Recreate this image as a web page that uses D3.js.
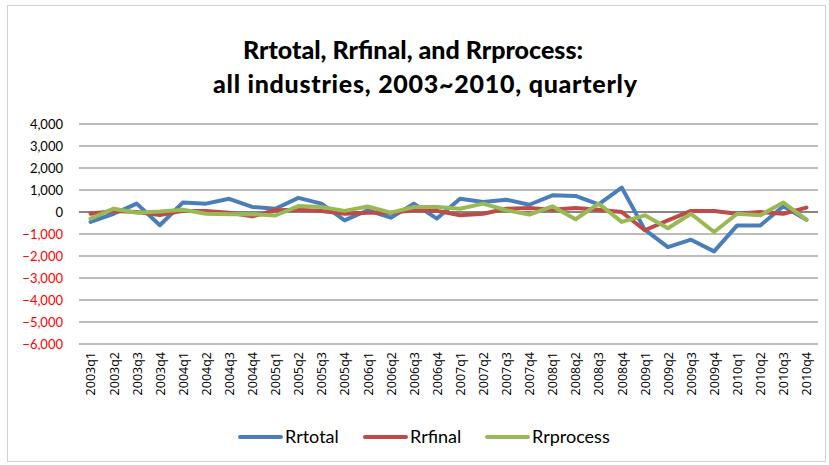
<!DOCTYPE html>
<html><head><meta charset="utf-8">
<script src="https://cdn.jsdelivr.net/npm/d3@7"></script>
<style>body{margin:0;background:#fff;}svg{display:block;}</style>
</head><body>
<svg id="c" width="829" height="465"></svg>
<script>
const quarters = ["2003q1","2003q2","2003q3","2003q4","2004q1","2004q2","2004q3","2004q4",
"2005q1","2005q2","2005q3","2005q4","2006q1","2006q2","2006q3","2006q4",
"2007q1","2007q2","2007q3","2007q4","2008q1","2008q2","2008q3","2008q4",
"2009q1","2009q2","2009q3","2009q4","2010q1","2010q2","2010q3","2010q4"];
const rrtotal = [-450,-80,380,-600,430,380,600,230,150,640,380,-380,80,-260,380,-300,600,450,560,330,760,730,350,1110,-800,-1600,-1260,-1790,-610,-610,260,-350];
const rrfinal = [-80,50,0,-140,50,50,-30,-200,80,100,50,-80,-30,-30,80,50,-150,-80,150,180,100,180,100,0,-830,-380,50,50,-80,0,-80,200];
const rrprocess = [-300,150,-30,20,100,-80,-100,-100,-160,270,230,50,250,-30,230,230,150,380,80,-120,260,-330,380,-450,-150,-740,-80,-910,-80,-150,430,-350];
const yTicks = [4000,3000,2000,1000,0,-1000,-2000,-3000,-4000,-5000,-6000];
const seriesNames = ["Rrtotal","Rrfinal","Rrprocess"];
const seriesColors = ["#4a7ebb","#be4b48","#98b954"];

const svg = d3.select("#c");
svg.append("rect").attr("x",7.5).attr("y",5.5).attr("width",818).attr("height",456)
  .attr("fill","#fff").attr("stroke","#d0d0d0");

const L=79, R=818, T=124, B=344;
const x = d3.scalePoint().domain(quarters).range([L,R]).padding(0.5);
const y = d3.scaleLinear().domain([-6000,4000]).range([B,T]);

// title
const title = svg.append("text").attr("text-anchor","middle").attr("font-family","Lato, 'Open Sans', sans-serif")
  .attr("font-weight",900).attr("font-size",25).attr("fill","#000");
title.append("tspan").attr("x",413).attr("y",59).attr("textLength",340).attr("lengthAdjust","spacing").text("Rrtotal, Rrfinal, and Rrprocess:");
title.append("tspan").attr("x",425).attr("y",93).attr("textLength",424).attr("lengthAdjust","spacing").text("all industries, 2003~2010, quarterly");

// grid
const gy = svg.append("g");
gy.selectAll("line").data(yTicks).join("line")
  .attr("x1",L).attr("x2",R).attr("y1",d=>y(d)).attr("y2",d=>y(d))
  .attr("stroke",d=>d===0?"#868686":"#a6a6a6").attr("stroke-width",d=>d===0?2:1.3);

// y axis labels
const yAxis = d3.axisLeft(y).tickValues(yTicks).tickSize(0).tickPadding(16).tickFormat(d3.format(","));
const ya = svg.append("g").attr("transform",`translate(${L},0)`).call(yAxis);
ya.select(".domain").remove();
ya.selectAll("text").attr("font-family","Lato, 'Open Sans', sans-serif").attr("font-size",13)
  .attr("fill",d=>d<0?"#ff0000":"#000");

// x axis labels
const xAxis = d3.axisBottom(x).tickSize(0).tickPadding(0);
const xa = svg.append("g").attr("transform",`translate(0,${B})`).call(xAxis);
xa.select(".domain").remove();
xa.selectAll("text").attr("font-family","'Open Sans', sans-serif").attr("font-size",12.5).attr("fill","#000")
  .attr("transform","rotate(-90)").attr("text-anchor","end").attr("dx","-8").attr("dy","0.35em").attr("x",0).attr("y",0);

// lines
const data = [rrtotal, rrfinal, rrprocess];
const line = d3.line().x((d,i)=>x(quarters[i])).y(d=>y(d));
svg.append("g").selectAll("path").data(data).join("path")
  .attr("d",line).attr("fill","none").attr("stroke",(d,i)=>seriesColors[i])
  .attr("stroke-width",4).attr("stroke-linejoin","round").attr("stroke-linecap","round");

// legend
const lx = [240,365,487];
const lg = svg.append("g");
seriesNames.forEach((n,i)=>{
  lg.append("line").attr("x1",lx[i]).attr("x2",lx[i]+41).attr("y1",437).attr("y2",437)
    .attr("stroke",seriesColors[i]).attr("stroke-width",4).attr("stroke-linecap","round");
  lg.append("text").attr("x",lx[i]+45).attr("y",443).attr("font-family","Lato, 'Open Sans', sans-serif")
    .attr("font-size",18).attr("fill","#000").text(n);
});
</script>
</body></html>
